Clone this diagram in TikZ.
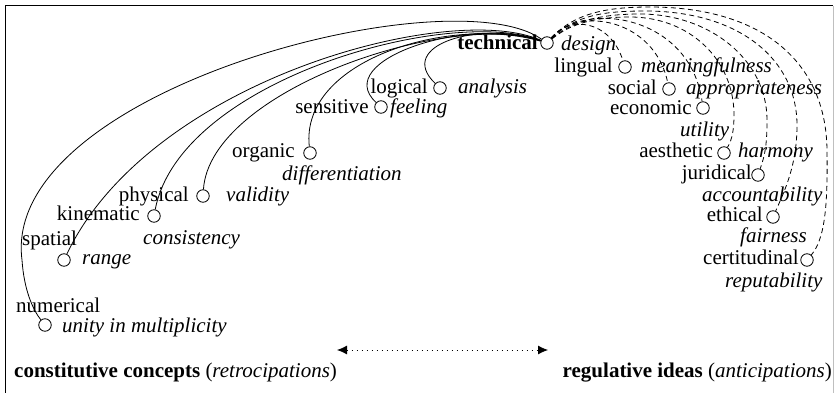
\documentclass[tikz,border=0pt]{standalone}
\usepackage{fontspec}
\setmainfont{Liberation Serif}
\usetikzlibrary{arrows.meta}
\begin{document}
\begin{tikzpicture}[x=1pt,y=-1pt,
  hub/.style={circle,draw,line width=0.8pt,minimum size=12.5pt,inner sep=0pt},
  txt/.style={font=\fontsize{21}{24}\selectfont,inner sep=0pt},
  lefttxt/.style={txt,anchor=base east},
  starttxt/.style={txt,anchor=base west},
  qual/.style={txt,anchor=base west,font=\fontsize{21}{24}\selectfont\itshape},
  solidarc/.style={line width=0.8pt},
  dasharc/.style={line width=0.8pt,dash pattern=on 5pt off 3.5pt}]

% canvas and frame
\fill[white] (0,0) rectangle (836,393);
\useasboundingbox (0,0) rectangle (836,393);
\draw[line width=1pt] (5,393) -- (5,6) -- (833,6);
\draw[line width=0.6pt,black!25] (833,6) -- (833,393);

% aspect circles
\node[hub] (tech) at (547,43) {};
\node[hub] (ling) at (625,67) {};
\node[hub] (logi) at (440,88) {};
\node[hub] (soc)  at (669,89) {};
\node[hub] (sens) at (381,107) {};
\node[hub] (eco)  at (703,108) {};
\node[hub] (org)  at (310,153) {};
\node[hub] (aes)  at (724,153) {};
\node[hub] (jur)  at (758,175) {};
\node[hub] (phys) at (203,196) {};
\node[hub] (eth)  at (773,217) {};
\node[hub] (kin)  at (154,216) {};
\node[hub] (cert) at (807,260) {};
\node[hub] (rng)  at (64,260) {};
\node[hub] (num)  at (45,325) {};

% aspect names
\node[lefttxt,font=\fontsize{21}{24}\selectfont\bfseries] (tTech) at (538,50) {technical};
\node[lefttxt] (tLing) at (613,73) {lingual};
\node[lefttxt] (tLogi) at (428,94) {logical};
\node[lefttxt] (tSoc)  at (657,95) {social};
\node[lefttxt] (tSens) at (369,114) {sensitive};
\node[lefttxt] (tEco)  at (692,115) {economic};
\node[lefttxt] (tOrg)  at (295,158) {organic};
\node[lefttxt] (tAes)  at (713,158) {aesthetic};
\node[lefttxt] (tJur)  at (752,180) {juridical};
\node[lefttxt] (tPhys) at (189,201) {physical};
\node[lefttxt] (tKin)  at (140,221) {kinematic};
\node[lefttxt] (tEth)  at (763,222) {ethical};
\node[starttxt] (tSpat) at (22,245) {spatial};
\node[lefttxt] (tCert) at (799,264) {certitudinal};
\node[starttxt] (tNum) at (16,312) {numerical};

% meaning nuclei
\node[qual] (qTech) at (561,51) {design};
\node[qual] (qLing) at (641,73) {meaningfulness};
\node[qual] (qLogi) at (458,94) {analysis};
\node[qual] (qSoc)  at (686,95) {appropriateness};
\node[qual] (qSens) at (390,114) {feeling};
\node[qual] (qEco)  at (680,137) {utility};
\node[qual] (qOrg)  at (282,181) {differentiation};
\node[qual] (qAes)  at (738,158) {harmony};
\node[qual] (qJur)  at (702,202) {accountability};
\node[qual] (qPhys) at (226,201) {validity};
\node[qual] (qKin)  at (143,244) {consistency};
\node[qual] (qEth)  at (740,243) {fairness};
\node[qual] (qRng)  at (82,264) {range};
\node[qual] (qCert) at (725,287) {reputability};
\node[qual] (qNum)  at (62,332) {unity in multiplicity};

% retrocipations
\draw[solidarc] (tech) .. controls (480,20) and (395,45) .. (logi);
\draw[solidarc] (tech) .. controls (470,15) and (330,60) .. (sens);
\draw[solidarc] (tech) .. controls (450,15) and (300,60) .. (org);
\draw[solidarc] (tech) .. controls (450,10) and (210,90) .. (phys);
\draw[solidarc] (tech) .. controls (450,5) and (180,80) .. (kin);
\draw[solidarc] (tech) .. controls (450,0) and (150,80) .. (rng);
\draw[solidarc] (tech) .. controls (450,-25) and (0,90) .. (22,260)
                       .. controls (24,290) and (33,310) .. (num);

% anticipations
\draw[dasharc] (tech) .. controls (570,15) and (610,20) .. (ling);
\draw[dasharc] (tech) .. controls (580,5) and (655,20) .. (soc);
\draw[dasharc] (tech) .. controls (585,0) and (690,15) .. (eco);
\draw[dasharc] (tech) .. controls (575,20) and (605,17) .. (630,17)
                      .. controls (690,17) and (734,60) .. (734,115)
                      .. controls (734,130) and (732,140) .. (aes);
\draw[dasharc] (tech) .. controls (575,18) and (610,14) .. (640,14)
                      .. controls (710,14) and (767,60) .. (767,120)
                      .. controls (767,145) and (765,155) .. (jur);
\draw[dasharc] (tech) .. controls (575,15) and (605,11) .. (645,11)
                      .. controls (740,11) and (797,60) .. (797,125)
                      .. controls (797,165) and (785,190) .. (eth);
\draw[dasharc] (tech) .. controls (575,12) and (610,7) .. (650,7)
                      .. controls (760,7) and (826,60) .. (827,150)
                      .. controls (828,210) and (824,240) .. (cert);

% direction of the order
\coordinate (arrL) at (337,350);
\coordinate (arrR) at (548,350);
\draw[line width=0.8pt,dash pattern=on 1.5pt off 3.5pt,
      {Latex[length=10pt,width=9pt]}-{Latex[length=10pt,width=9pt]}] (arrL) -- (arrR);

\node[starttxt] (bLeft) at (14,377) {\textbf{constitutive concepts} (\textit{retrocipations})};
\node[lefttxt] (bRight) at (832,377) {\textbf{regulative ideas} (\textit{anticipations})};
\end{tikzpicture}
\end{document}
